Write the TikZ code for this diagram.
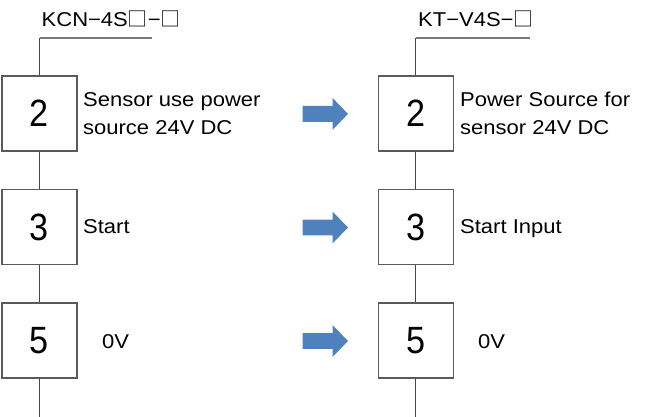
\documentclass[tikz,border=0pt]{standalone}
\usepackage{fontspec}
\setmainfont{Liberation Sans}[FakeStretch=1.1]
\newfontfamily\digitfont{Liberation Sans}[FakeStretch=0.9]
\newfontfamily\cjkfont{Noto Sans CJK JP}
\definecolor{arrowblue}{RGB}{79,129,189}
\definecolor{boxgray}{RGB}{90,90,90}
\definecolor{wiregray}{RGB}{70,70,70}
\definecolor{leadgray}{RGB}{120,120,120}
\newcommand{\sq}{{\cjkfont □}}
\begin{document}
\begin{tikzpicture}[x=1pt,y=-1pt,
  pinbox/.style={draw=boxgray, line width=1.3pt, minimum size=75pt, inner sep=0pt,
    font=\digitfont\fontsize{38}{40}\selectfont},
  lbl/.style={anchor=base west, inner sep=0pt, font=\fontsize{20}{24}\selectfont},
  wire/.style={draw=wiregray, line width=1pt},
  lead/.style={draw=leadgray, line width=2pt},
  bigarrow/.style={fill=arrowblue}]
\useasboundingbox (0,0) rectangle (648,417);

% ---------- left column ----------
\node[lbl] (ttlL) at (41.5,27) {KCN−4S\sq−\sq};
\coordinate (topL) at (39.5,38.5);
\coordinate (endL) at (152,38.5);
\coordinate (botL) at (39.5,417);
\node[pinbox] (L2) at (39.5,113.5) {2};
\node[pinbox] (L3) at (39.5,227) {3};
\node[pinbox] (L5) at (39.5,340.5) {5};
\node[lbl] (L2a) at (83,106.5) {Sensor use power};
\node[lbl] (L2b) at (83,134.5) {source 24V DC};
\node[lbl] (L3a) at (83,233) {Start};
\node[lbl] (L5a) at (102,348) {0V};
\draw[lead] (topL) -- (endL);
\draw[wire] (topL) -- (L2.north);
\draw[wire] (L2.south) -- (L3.north);
\draw[wire] (L3.south) -- (L5.north);
\draw[wire] (L5.south) -- (botL);

% ---------- right column ----------
\node[lbl] (ttlR) at (418,27) {KT−V4S−\sq};
\coordinate (topR) at (415.8,38.5);
\coordinate (endR) at (530,38.5);
\coordinate (botR) at (415.8,417);
\node[pinbox] (R2) at (415.8,113.5) {2};
\node[pinbox] (R3) at (415.8,227) {3};
\node[pinbox] (R5) at (415.8,340.5) {5};
\node[lbl] (R2a) at (460,106.5) {Power Source for};
\node[lbl] (R2b) at (460,134.5) {sensor 24V DC};
\node[lbl] (R3a) at (460,233) {Start Input};
\node[lbl] (R5a) at (478,348) {0V};
\draw[lead] (topR) -- (endR);
\draw[wire] (topR) -- (R2.north);
\draw[wire] (R2.south) -- (R3.north);
\draw[wire] (R3.south) -- (R5.north);
\draw[wire] (R5.south) -- (botR);

% ---------- block arrows ----------
\foreach \yy in {113.9,227.5,341} {
  \fill[bigarrow] (302.7,\yy-7.9) -- (332.7,\yy-7.9) -- (332.7,\yy-15.8)
    -- (348,\yy) -- (332.7,\yy+15.8) -- (332.7,\yy+7.9) -- (302.7,\yy+7.9) -- cycle;
}
\end{tikzpicture}
\end{document}
